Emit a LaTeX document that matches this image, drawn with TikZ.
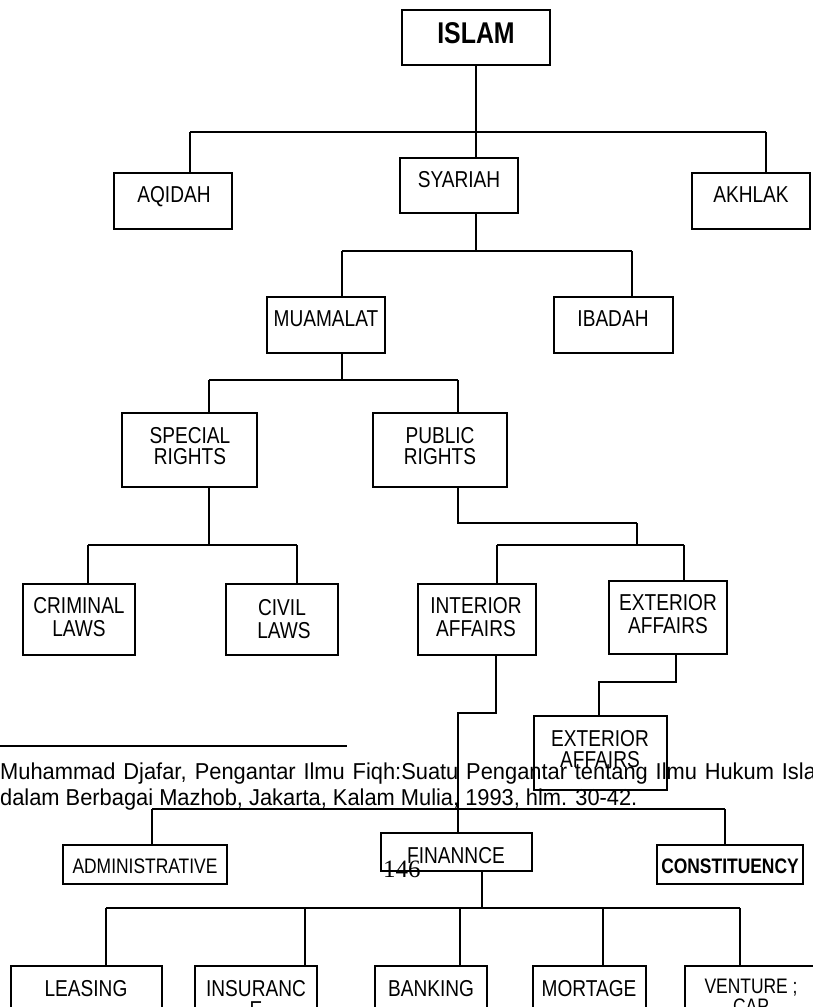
\documentclass[tikz,border=0pt]{standalone}
\usepackage{fontspec}
\setmainfont{Liberation Sans}[FakeStretch=0.83]
\newfontfamily\fnfont{Liberation Sans}[FakeStretch=0.95]
\newfontfamily\pgfont{Liberation Serif}
\begin{document}
\begin{tikzpicture}[x=1pt,y=-1pt,
  box/.style={draw, line width=2.5pt, inner sep=0pt},
  lbl/.style={inner sep=0pt, anchor=base, font=\fontsize{23}{23}\selectfont},
  sml/.style={inner sep=0pt, anchor=base, font=\fontsize{21}{21}\selectfont},
  conn/.style={line width=2pt}]
\useasboundingbox (0,0) rectangle (813,1007);
\clip (0,0) rectangle (813,1007);
% ---------------- boxes ----------------
\node[box, minimum width=148pt, minimum height=55pt] (islam) at (476,37.5) {};
\node[box, minimum width=118pt, minimum height=56pt] (aqidah) at (173,201) {};
\node[box, minimum width=118pt, minimum height=55pt] (syariah) at (459,185.5) {};
\node[box, minimum width=118pt, minimum height=56pt] (akhlak) at (751,201) {};
\node[box, minimum width=118pt, minimum height=56pt] (muamalat) at (326,325) {};
\node[box, minimum width=119pt, minimum height=56pt] (ibadah) at (613.5,325) {};
\node[box, minimum width=135pt, minimum height=74pt] (special) at (189.5,450) {};
\node[box, minimum width=134pt, minimum height=74pt] (public) at (440,450) {};
\node[box, minimum width=112pt, minimum height=71pt] (criminal) at (79,619.5) {};
\node[box, minimum width=112pt, minimum height=71pt] (civil) at (282,619.5) {};
\node[box, minimum width=118pt, minimum height=71pt] (interior) at (477,619.5) {};
\node[box, minimum width=118pt, minimum height=73pt] (exterior) at (668,617.5) {};
\node[box, minimum width=133pt, minimum height=74pt] (exterior2) at (600.5,753) {};
\node[box, minimum width=164pt, minimum height=39pt] (admin) at (145,864.5) {};
\node[box, minimum width=151pt, minimum height=38pt] (finance) at (456.5,852) {};
\node[box, minimum width=146pt, minimum height=39pt] (constit) at (730,864.5) {};
\node[box, minimum width=151pt, minimum height=73pt] (leasing) at (86.5,1002.5) {};
\node[box, minimum width=122pt, minimum height=73pt] (insur) at (256,1002.5) {};
\node[box, minimum width=112pt, minimum height=73pt] (banking) at (431,1002.5) {};
\node[box, minimum width=113pt, minimum height=73pt] (mortage) at (589.5,1002.5) {};
\node[box, minimum width=132pt, minimum height=73pt] (venture) at (751,1002.5) {};
% ---------------- labels ----------------
\node[inner sep=0pt, anchor=base, font=\fontsize{30}{30}\selectfont\bfseries] (t-islam) at (476,43) {ISLAM};
\node[lbl] (t-aqidah) at (174,202) {AQIDAH};
\node[lbl] (t-syariah) at (459,187.5) {SYARIAH};
\node[lbl] (t-akhlak) at (751,202) {AKHLAK};
\node[lbl] (t-muamalat) at (326,326) {MUAMALAT};
\node[lbl] (t-ibadah) at (613,326) {IBADAH};
\node[lbl] (t-special1) at (190,443) {SPECIAL};
\node[lbl] (t-special2) at (190,464) {RIGHTS};
\node[lbl] (t-public1) at (440,443) {PUBLIC};
\node[lbl] (t-public2) at (440,464) {RIGHTS};
\node[lbl] (t-criminal1) at (79,613) {CRIMINAL};
\node[lbl] (t-criminal2) at (79,636) {LAWS};
\node[lbl] (t-civil1) at (282,615) {CIVIL};
\node[lbl] (t-civil2) at (284,638) {LAWS};
\node[lbl] (t-interior1) at (476,613) {INTERIOR};
\node[lbl] (t-interior2) at (476,636) {AFFAIRS};
\node[lbl] (t-exterior1) at (668,610) {EXTERIOR};
\node[lbl] (t-exterior2) at (668,633) {AFFAIRS};
% ---------------- footnote ----------------
\draw[line width=2.5pt] (0,746) -- (347,746) coordinate (rule-end);
\node[inner sep=0pt, anchor=base west, font=\fnfont\fontsize{23}{23}\selectfont] (fn1) at (0,779)
  {\makebox[834pt][s]{Muhammad Djafar, Pengantar Ilmu Fiqh:Suatu Pengantar tentang Ilmu Hukum Islam}};
\node[inner sep=0pt, anchor=base west, font=\fnfont\fontsize{23}{23}\selectfont] (fn2) at (0,805)
  {dalam Berbagai Mazhob, Jakarta, Kalam Mulia, 1993, hlm. 30-42.};
\node[lbl] (t-exteriorb1) at (600,746) {EXTERIOR};
\node[lbl] (t-exteriorb2) at (600,767) {AFFAIRS};
\node[sml] (t-admin) at (145,873) {ADMINISTRATIVE};
\node[lbl] (t-finance) at (456,863) {FINANNCE};
\node[sml, font=\fontsize{21}{21}\selectfont\bfseries] (t-constit) at (730,873) {CONSTITUENCY};
\node[lbl] (t-leasing) at (86,996) {LEASING};
\node[lbl] (t-insur1) at (256,996) {INSURANC};
\node[lbl] (t-insur2) at (256,1017) {E};
\node[lbl] (t-banking) at (431,996) {BANKING};
\node[lbl] (t-mortage) at (589,996) {MORTAGE};
\node[sml] (t-venture1) at (751,993) {VENTURE ;};
\node[sml] (t-venture2) at (751,1013) {CAP};
% ---------------- connectors ----------------
\coordinate (b1l) at (190,132);
\coordinate (b1r) at (766,132);
\draw[conn] (islam.south) -- (islam.south |- syariah.north);
\draw[conn] (b1l) -- (b1r);
\draw[conn] (b1l) -- (b1l |- aqidah.north);
\draw[conn] (b1r) -- (b1r |- akhlak.north);
\coordinate (b2l) at (342,251);
\coordinate (b2r) at (632,251);
\draw[conn] (islam.south |- syariah.south) -- (islam.south |- b2l);
\draw[conn] (b2l) -- (b2r);
\draw[conn] (b2l) -- (b2l |- muamalat.north);
\draw[conn] (b2r) -- (b2r |- ibadah.north);
\coordinate (b3l) at (209,380);
\coordinate (b3r) at (458,380);
\draw[conn] (b2l |- muamalat.south) -- (b2l |- b3l);
\draw[conn] (b3l) -- (b3r);
\draw[conn] (b3l) -- (b3l |- special.north);
\draw[conn] (b3r) -- (b3r |- public.north);
\coordinate (b4l) at (88,545);
\coordinate (b4r) at (297,545);
\draw[conn] (b3l |- special.south) -- (b3l |- b4l);
\draw[conn] (b4l) -- (b4r);
\draw[conn] (b4l) -- (b4l |- criminal.north);
\draw[conn] (b4r) -- (b4r |- civil.north);
\coordinate (p1) at (637,523);
\draw[conn] (b3r |- public.south) |- (p1);
\coordinate (b5l) at (497,545);
\coordinate (b5r) at (684,545);
\draw[conn] (p1) -- (p1 |- b5l);
\draw[conn] (b5l) -- (b5r);
\draw[conn] (b5l) -- (b5l |- interior.north);
\draw[conn] (b5r) -- (b5r |- exterior.north);
\coordinate (i1) at (496,713);
\coordinate (i2) at (458,713);
\draw[conn] (i1 |- interior.south) -- (i1) -- (i2) -- (i2 |- finance.north);
\coordinate (e1) at (676,682);
\coordinate (e2) at (599,682);
\draw[conn] (e1 |- exterior.south) -- (e1) -- (e2) -- (e2 |- exterior2.north);
\coordinate (b6l) at (152,809);
\coordinate (b6r) at (725,809);
\draw[conn] (b6l) -- (b6r);
\draw[conn] (b6l) -- (b6l |- admin.north);
\draw[conn] (b6r) -- (b6r |- constit.north);
\coordinate (f1) at (482,908);
\coordinate (b7l) at (106,908);
\coordinate (b7r) at (740,908);
\draw[conn] (f1 |- finance.south) -- (f1);
\draw[conn] (b7l) -- (b7r);
\draw[conn] (b7l) -- (b7l |- leasing.north);
\draw[conn] (305,908) -- (305,908 |- insur.north);
\draw[conn] (460,908) -- (460,908 |- banking.north);
\draw[conn] (603,908) -- (603,908 |- mortage.north);
\draw[conn] (b7r) -- (b7r |- venture.north);
% ---------------- page number ----------------
\node[inner sep=0pt, anchor=base west, font=\pgfont\fontsize{25}{25}\selectfont] (pagenum) at (383,877) {146};
\end{tikzpicture}
\end{document}
